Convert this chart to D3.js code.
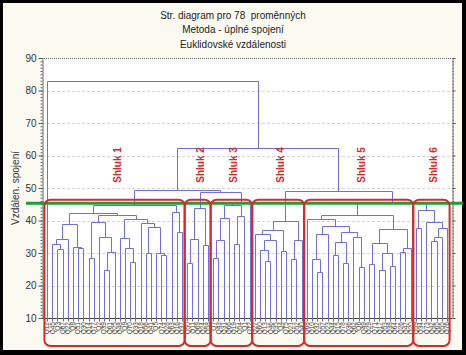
<!DOCTYPE html>
<html><head><meta charset="utf-8">
<script src="https://cdn.jsdelivr.net/npm/d3@7"></script>
<style>
html,body{margin:0;padding:0;background:#000;}
svg{display:block;}
text{font-family:"Liberation Sans",Arial,sans-serif;}
</style></head><body>
<svg id="chart" width="466" height="355"></svg>
<script>
// ---------------- data ----------------
const titleLines = ["Str. diagram pro 78  proměnných", "Metoda - úplné spojení", "Euklidovské vzdálenosti"];
const yAxisTitle = "Vzdálen. spojení";
const yTicks = [10, 20, 30, 40, 50, 60, 70, 80, 90];

// leaf order (left to right)
const leafLabels = [
  "Q12","Q45","Q3","Q67","Q22","Q8","Q51","Q30","Q14","Q77","Q2","Q39","Q61","Q25","Q48","Q9","Q70","Q33","Q18","Q56","Q41","Q5","Q74","Q28","Q63","Q16","Q37",
  "Q50","Q11","Q69","Q24","Q58",
  "Q7","Q43","Q31","Q66","Q19","Q54","Q1","Q72",
  "Q27","Q60","Q13","Q46","Q35","Q4","Q75","Q21","Q52","Q40",
  "Q68","Q10","Q32","Q57","Q23","Q44","Q15","Q78","Q36","Q62","Q6","Q49","Q29","Q71","Q17","Q53","Q38","Q64","Q26","Q47","Q20",
  "Q59","Q34","Q73","Q42","Q65","Q55","Q76"
];

// linkage: [id, left, right, linkage distance]; numbers = leaf positions, strings = earlier merges
const merges = [
  ["c1a", 2, 3, 31.3], ["c1b", 1, "c1a", 32.8], ["c1c", "c1b", 4, 34.2],
  ["c1d", 6, 7, 31.4], ["c1e", 5, "c1d", 31.8], ["c1f", "c1c", "c1e", 38.8],
  ["c1g", 8, 9, 28.4], ["c1h", 11, 12, 24.8], ["c1i", "c1h", 13, 30.4],
  ["c1j", 10, "c1i", 34.8], ["c1k", "c1g", "c1j", 39.6],
  ["c1l", 16, 17, 27.3], ["c1m", 15, "c1l", 31.6], ["c1n", 14, "c1m", 34.7],
  ["c1o", 19, 20, 30.1], ["c1p", 22, 23, 29.5], ["c1q", 21, "c1p", 29.9],
  ["c1r", "c1o", "c1q", 38.1], ["c1s", 18, "c1r", 39.2], ["c1t", "c1n", "c1s", 40.4],
  ["c1u", "c1k", "c1t", 41.8], ["c1v", "c1f", "c1u", 42.2],
  ["c1w", 25, 26, 36.4], ["c1x", 24, "c1w", 42.7], ["C1", "c1v", "c1x", 44.7],

  ["c2a", 27, 28, 26.8], ["c2b", "c2a", 29, 34.2], ["c2c", 30, 31, 32.5], ["C2", "c2b", "c2c", 43.7],

  ["c3a", 32, 33, 28.4], ["c3b", "c3a", 34, 34.0], ["c3c", "c3b", 35, 40.7],
  ["c3d", 36, 37, 32.8], ["c3e", "c3d", 38, 41.4], ["c3f", "c3c", "c3e", 44.9], ["C3", "c3f", 39, 45.8],

  ["c4a", 42, 43, 27.6], ["c4b", 41, "c4a", 30.9], ["c4c", "c4b", 44, 34.0], ["c4d", 40, "c4c", 36.0],
  ["c4e", 45, 46, 30.5], ["c4f", "c4d", "c4e", 37.1], ["c4g", 47, 48, 28.3], ["c4h", "c4g", 49, 34.0],
  ["C4", "c4f", "c4h", 39.8],

  ["c5a", 52, 53, 24.0], ["c5b", 51, "c5a", 28.1], ["c5c", "c5b", 54, 36.0],
  ["c5d", 55, 56, 29.4], ["c5e", 57, 58, 26.8], ["c5f", "c5d", "c5e", 33.5],
  ["c5g", 60, 61, 25.8], ["c5h", 59, "c5g", 35.0], ["c5i", "c5f", "c5h", 36.6],
  ["c5j", "c5c", "c5i", 38.3], ["c5k", 50, "c5j", 40.4],
  ["c5l", 62, 63, 26.5], ["c5m", 64, 65, 24.8], ["c5n", 66, 67, 26.0], ["c5o", "c5m", "c5n", 29.9],
  ["c5p", "c5l", "c5o", 33.2], ["c5q", 68, 69, 30.4], ["c5r", "c5q", 70, 31.5],
  ["c5s", "c5p", "c5r", 37.4], ["C5", "c5k", "c5s", 41.7],

  ["c6a", 71, 72, 37.6], ["c6b", 74, 75, 33.7], ["c6c", "c6b", 76, 35.0], ["c6d", "c6c", 77, 37.6],
  ["c6e", 73, "c6d", 39.6], ["C6", "c6a", "c6e", 43.2],

  ["C23", "C2", "C3", 48.7], ["L1", "C1", "C23", 49.4],
  ["C56", "C5", "C6", 45.6], ["L2", "C4", "C56", 49.0],
  ["R", "L1", "L2", 62.4], ["root", 0, "R", 83.0]
];

const clusterNames = ["Shluk 1", "Shluk 2", "Shluk 3", "Shluk 4", "Shluk 5", "Shluk 6"];
const clusterFirstLeaf = [0, 27, 32, 40, 50, 71];
const clusterLastLeaf = [26, 31, 39, 49, 70, 77];
const cutHeight = 45.3;

// ---------------- drawing ----------------
const W = 466, H = 355;
const svg = d3.select("#chart");
svg.append("rect").attr("width", W).attr("height", H).attr("fill", "#000");
svg.append("rect").attr("x", 3).attr("y", 3).attr("width", W - 7).attr("height", H - 8).attr("fill", "#fbfaf1");

const plot = {l: 42, r: 452, t: 58, b: 318};
svg.append("rect").attr("x", plot.l).attr("y", plot.t)
  .attr("width", plot.r - plot.l).attr("height", plot.b - plot.t).attr("fill", "#ffffff");

const x = d3.scalePoint().domain(d3.range(leafLabels.length)).range([plot.l, plot.r]).padding(0.965);
const y = d3.scaleLinear().domain([10, 90]).range([plot.b, plot.t]);
const step = x.step();

// grid
svg.append("g").selectAll("line").data(yTicks.filter(v => v > 10 && v < 90)).join("line")
  .attr("x1", plot.l).attr("x2", plot.r)
  .attr("y1", d => Math.round(y(d)) + 0.5).attr("y2", d => Math.round(y(d)) + 0.5)
  .attr("stroke", "#d4d4d4").attr("stroke-dasharray", "3,2");

// top dotted border
svg.append("line").attr("x1", plot.l).attr("x2", plot.r)
  .attr("y1", plot.t + 0.5).attr("y2", plot.t + 0.5)
  .attr("stroke", "#6a6a6a").attr("stroke-dasharray", "1,1");

// left axis
const minorTicks = d3.range(10, 90.01, 1);
const gL = svg.append("g").attr("transform", `translate(${plot.l + 0.5},0)`);
gL.call(d3.axisLeft(y).tickValues(minorTicks).tickSize(2).tickFormat(""));
gL.selectAll("path,line").attr("stroke", "#666");
const gL2 = svg.append("g").attr("transform", `translate(${plot.l + 0.5},0)`);
gL2.call(d3.axisLeft(y).tickValues(yTicks).tickSize(4).tickPadding(2));
gL2.select("path").remove();
gL2.selectAll("line").attr("stroke", "#555");
gL2.selectAll("text").attr("font-size", 10).attr("fill", "#333")
  .attr("font-family", "'Liberation Sans',Arial,sans-serif");

// right axis
const gR = svg.append("g").attr("transform", `translate(${plot.r + 0.5},0)`);
gR.call(d3.axisRight(y).tickValues(minorTicks).tickSize(1.5).tickFormat(""));
gR.selectAll("path,line").attr("stroke", "#777");
const gR2 = svg.append("g").attr("transform", `translate(${plot.r + 0.5},0)`);
gR2.call(d3.axisRight(y).tickValues(yTicks).tickSize(3).tickFormat(""));
gR2.select("path").remove();
gR2.selectAll("line").attr("stroke", "#555");

// bottom line & leaf ticks
svg.append("line").attr("x1", plot.l).attr("x2", plot.r)
  .attr("y1", plot.b + 0.5).attr("y2", plot.b + 0.5).attr("stroke", "#444");
svg.append("g").selectAll("line").data(d3.range(leafLabels.length)).join("line")
  .attr("x1", d => Math.round(x(d)) + 0.5).attr("x2", d => Math.round(x(d)) + 0.5)
  .attr("y1", plot.b).attr("y2", plot.b + 3.5).attr("stroke", "#6a6a8a");

// leaf labels
svg.append("g").selectAll("text").data(leafLabels).join("text")
  .attr("transform", (d, i) => `translate(${x(i) + 2.3},${plot.b + 4}) rotate(-90)`)
  .attr("text-anchor", "end").attr("font-size", 6.5).attr("fill", "#444").text(d => d);

// y axis title
svg.append("text").attr("transform", `translate(19,${(plot.t + plot.b) / 2}) rotate(-90)`)
  .attr("text-anchor", "middle").attr("font-size", 10).attr("fill", "#333").text(yAxisTitle);

// title
svg.append("g").selectAll("text").data(titleLines).join("text")
  .attr("x", W / 2).attr("y", (d, i) => 18.7 + i * 14.7)
  .attr("text-anchor", "middle").attr("font-size", 10).attr("fill", "#222")
  .style("white-space", "pre").text(d => d);

// dendrogram
const nodes = new Map();
const getNode = k => typeof k === "number" ? {x: x(k), h: 10} : nodes.get(k);
const segs = [];
merges.forEach(([id, a, b, h]) => {
  const na = getNode(a), nb = getNode(b);
  nodes.set(id, {x: (na.x + nb.x) / 2, h});
  segs.push({a: na, b: nb, h});
});
const px = v => Math.round(v) + 0.5;
svg.append("g").selectAll("path").data(segs).join("path")
  .attr("d", s => `M${px(s.a.x)},${px(y(s.a.h))}V${px(y(s.h))}H${px(s.b.x)}V${px(y(s.b.h))}`)
  .attr("fill", "none").attr("stroke", "#6f6fe6").attr("stroke-width", 1);

// cut line
svg.append("line").attr("x1", 26).attr("x2", 463)
  .attr("y1", y(cutHeight)).attr("y2", y(cutHeight))
  .attr("stroke", "#1f9d3d").attr("stroke-width", 3);

// cluster boxes
const boxTop = y(cutHeight) - 3.5, boxBottom = 346;
const clusters = clusterNames.map((n, i) => ({
  name: n,
  x0: x(clusterFirstLeaf[i]) - step / 2,
  x1: x(clusterLastLeaf[i]) + step / 2
}));
svg.append("g").selectAll("rect").data(clusters).join("rect")
  .attr("x", d => d.x0).attr("y", boxTop).attr("width", d => d.x1 - d.x0).attr("height", boxBottom - boxTop)
  .attr("rx", 6).attr("ry", 6).attr("fill", "none").attr("stroke", "#d42a2a").attr("stroke-width", 2);

svg.append("g").selectAll("text").data(clusters).join("text")
  .attr("transform", d => `translate(${(d.x0 + d.x1) / 2 + 2.5},165) rotate(-90)`)
  .attr("text-anchor", "middle").attr("dy", "0.35em")
  .attr("font-size", 10).attr("font-weight", "bold").attr("fill", "#d42a2a").text(d => d.name);
</script>
</body></html>
